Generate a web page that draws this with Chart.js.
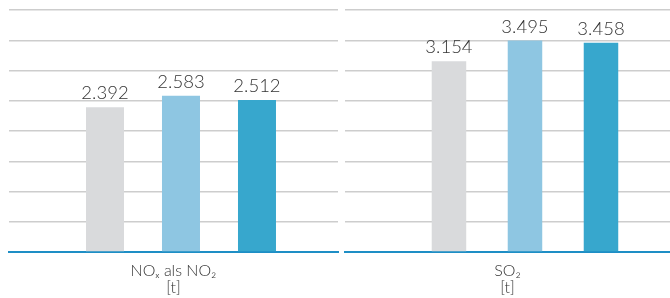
<!DOCTYPE html>
<html lang="de">
<head>
<meta charset="utf-8">
<title>Emissionen</title>
<script src="https://cdn.jsdelivr.net/npm/chart.js@4.4.1/dist/chart.umd.min.js"></script>
<style>
  html, body {
    margin: 0;
    padding: 0;
    background: #ffffff;
  }
  #wrap {
    position: relative;
    width: 670px;
    height: 298px;
  }
  .panel {
    position: absolute;
    top: 0;
    height: 298px;
  }
  .panel canvas {
    display: block;
  }
  #left-panel {
    left: 0;
    width: 341px;
  }
  #right-panel {
    left: 341px;
    width: 329px;
  }
</style>
</head>
<body>
<div id="wrap">
  <div class="panel" id="left-panel"><canvas id="nox-chart" width="341" height="298"></canvas></div>
  <div class="panel" id="right-panel"><canvas id="so2-chart" width="329" height="298"></canvas></div>
</div>
<script>
"use strict";
// categories (one panel each) and unit line
const CATEGORIES = ["NOₓ als NO₂", "SO₂"];
const UNIT = "[t]";
// the three bars in every panel
const SERIES = ["Vorvorjahr", "Vorjahr", "Berichtsjahr"];
const NOX_VALUES = [2392, 2583, 2512];
const SO2_VALUES = [3154, 3495, 3458];
// y axis (ticks are not shown, only the grid)
const Y_MAX = 4000;
const Y_STEP = 500;

(function () {
  const COLORS = ["#d9dadc", "#8ec6e2", "#37a7cd"];
  const GRID_COLOR = "#cdcdcd";
  const BASE_COLOR = "#1e8ec5";
  const TEXT_COLOR = "#333333";
  const FONT = "Lato, 'Open Sans', sans-serif";

  window.addEventListener("load", init);

  function init() {
    makeChart(id("nox-chart"), CATEGORIES[0], NOX_VALUES,
      {min: -1.263, max: 3.066}, {left: 9, right: 3});
    makeChart(id("so2-chart"), CATEGORIES[1], SO2_VALUES,
      {min: -1.368, max: 2.908}, {left: 4, right: 0});
  }

  // german thousands separator, 2392 -> "2.392"
  function formatValue(v) {
    return String(v).replace(/\B(?=(\d{3})+(?!\d))/g, ".");
  }

  const valueLabels = {
    id: "valueLabels",
    afterDatasetsDraw(chart) {
      let ctx = chart.ctx;
      let meta = chart.getDatasetMeta(0);
      ctx.save();
      ctx.font = "300 18.5px " + FONT;
      ctx.fillStyle = TEXT_COLOR;
      ctx.textAlign = "center";
      ctx.textBaseline = "alphabetic";
      meta.data.forEach((bar, i) => {
        let v = chart.data.datasets[0].data[i].y;
        ctx.fillText(formatValue(v), bar.x, bar.y - 8);
      });
      ctx.restore();
    }
  };

  function makeChart(canvas, category, values, xRange, pad) {
    let points = values.map((v, i) => ({x: i, y: v}));
    return new Chart(canvas, {
      type: "bar",
      data: {
        datasets: [{
          label: category,
          data: points,
          backgroundColor: COLORS,
          borderWidth: 0,
          barPercentage: 0.5,
          categoryPercentage: 1
        }]
      },
      options: {
        responsive: false,
        animation: false,
        maintainAspectRatio: false,
        layout: {
          padding: {top: 10, bottom: 0, left: pad.left, right: pad.right}
        },
        plugins: {
          legend: {display: false},
          tooltip: {enabled: false}
        },
        scales: {
          x: {
            type: "linear",
            offset: false,
            min: xRange.min,
            max: xRange.max,
            grid: {display: false, drawTicks: false},
            ticks: {display: false},
            border: {display: true, color: BASE_COLOR, width: 2},
            title: {
              display: true,
              text: [category, UNIT],
              color: TEXT_COLOR,
              font: {family: FONT, size: 16, weight: "300", lineHeight: 1.06},
              padding: {top: 10, bottom: 2}
            }
          },
          y: {
            min: 0,
            max: Y_MAX,
            ticks: {display: false, stepSize: Y_STEP},
            grid: {color: GRID_COLOR, lineWidth: 1.5, drawTicks: false},
            border: {display: false}
          }
        }
      },
      plugins: [valueLabels]
    });
  }

  function id(name) {
    return document.getElementById(name);
  }
})();
</script>
</body>
</html>
